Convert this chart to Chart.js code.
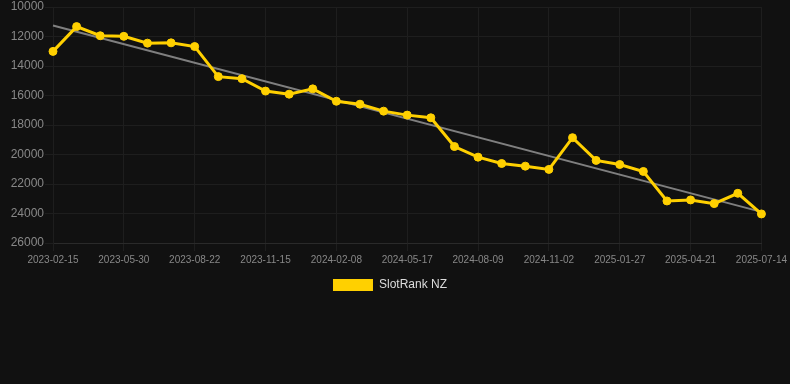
<!DOCTYPE html>
<html>
<head>
    <title>SlotRank NZ</title>
    <script src="https://cdn.jsdelivr.net/npm/chart.js"></script>
    <style>
        html, body { margin: 0; padding: 0; background: #111111; }
        #wrap { width: 790px; height: 301px; position: relative; }
    </style>
</head>
<body>
    <div id="wrap"><canvas id="rankChart"></canvas></div>
    <script>
        // dates of each ranking snapshot
        const dates = [
            '2023-02-15', '2023-03-22', '2023-04-26', '2023-05-30', '2023-06-27', '2023-07-25',
            '2023-08-22', '2023-09-19', '2023-10-18', '2023-11-15', '2023-12-13', '2024-01-11',
            '2024-02-08', '2024-03-14', '2024-04-15', '2024-05-17', '2024-06-14', '2024-07-12',
            '2024-08-09', '2024-09-06', '2024-10-05', '2024-11-02', '2024-12-01', '2024-12-29',
            '2025-01-27', '2025-02-24', '2025-03-24', '2025-04-21', '2025-05-19', '2025-06-16',
            '2025-07-14'
        ];
        // rank values (lower = better)
        const ranks = [
            13010, 11330, 11950, 11990, 12450, 12430, 12680, 14720, 14860, 15700,
            15910, 15550, 16390, 16590, 17060, 17330, 17510, 19460, 20180, 20610,
            20790, 21010, 18860, 20400, 20680, 21150, 23150, 23080, 23330, 22630,
            24030
        ];
        // trend line end points
        const trendStart = 11260;
        const trendEnd = 23890;

        const trend = dates.map((d, i) => i === 0 ? trendStart : (i === dates.length - 1 ? trendEnd : null));

        const font = 'Liberation Sans, Arial, sans-serif';

        const ctx = document.getElementById('rankChart').getContext('2d');
        const chart = new Chart(ctx, {
            type: 'line',
            data: {
                labels: dates,
                datasets: [
                    {
                        label: 'SlotRank NZ',
                        data: ranks,
                        borderColor: '#ffd000',
                        backgroundColor: '#ffd000',
                        borderWidth: 3,
                        pointRadius: 4,
                        pointBorderWidth: 1,
                        pointBackgroundColor: '#ffd000',
                        pointBorderColor: '#ffd000',
                        tension: 0,
                        fill: false,
                        order: 1
                    },
                    {
                        label: 'Trend',
                        data: trend,
                        borderColor: 'rgba(140, 140, 140, 0.9)',
                        borderWidth: 2,
                        pointRadius: 0,
                        spanGaps: true,
                        fill: false,
                        order: 2
                    }
                ]
            },
            options: {
                responsive: true,
                maintainAspectRatio: false,
                animation: false,
                layout: { padding: { left: 0, right: 10, top: 0, bottom: 0 } },
                plugins: {
                    legend: {
                        position: 'bottom',
                        labels: {
                            color: '#dddddd',
                            boxWidth: 40,
                            boxHeight: 12,
                            padding: 10,
                            font: { family: font, size: 12 },
                            generateLabels: c => Chart.defaults.plugins.legend.labels.generateLabels(c)
                                .filter(item => item.text !== 'Trend')
                                .map(item => Object.assign(item, { lineWidth: 0 }))
                        }
                    },
                    tooltip: { enabled: false }
                },
                scales: {
                    x: {
                        grid: { color: '#1e1e1e' },
                        border: { color: '#2a2a2a' },
                        ticks: {
                            color: '#888888',
                            maxRotation: 0,
                            autoSkip: true,
                            font: { family: font, size: 10 }
                        }
                    },
                    y: {
                        reverse: true,
                        min: 10000,
                        max: 26000,
                        afterFit: scale => { scale.width = 53; },
                        grid: { color: '#1e1e1e' },
                        border: { color: '#1e1e1e' },
                        ticks: {
                            stepSize: 2000,
                            padding: 1,
                            color: '#888888',
                            font: { family: font, size: 12, lineHeight: 1 },
                            callback: v => String(v)
                        }
                    }
                }
            }
        });
    </script>
</body>
</html>
